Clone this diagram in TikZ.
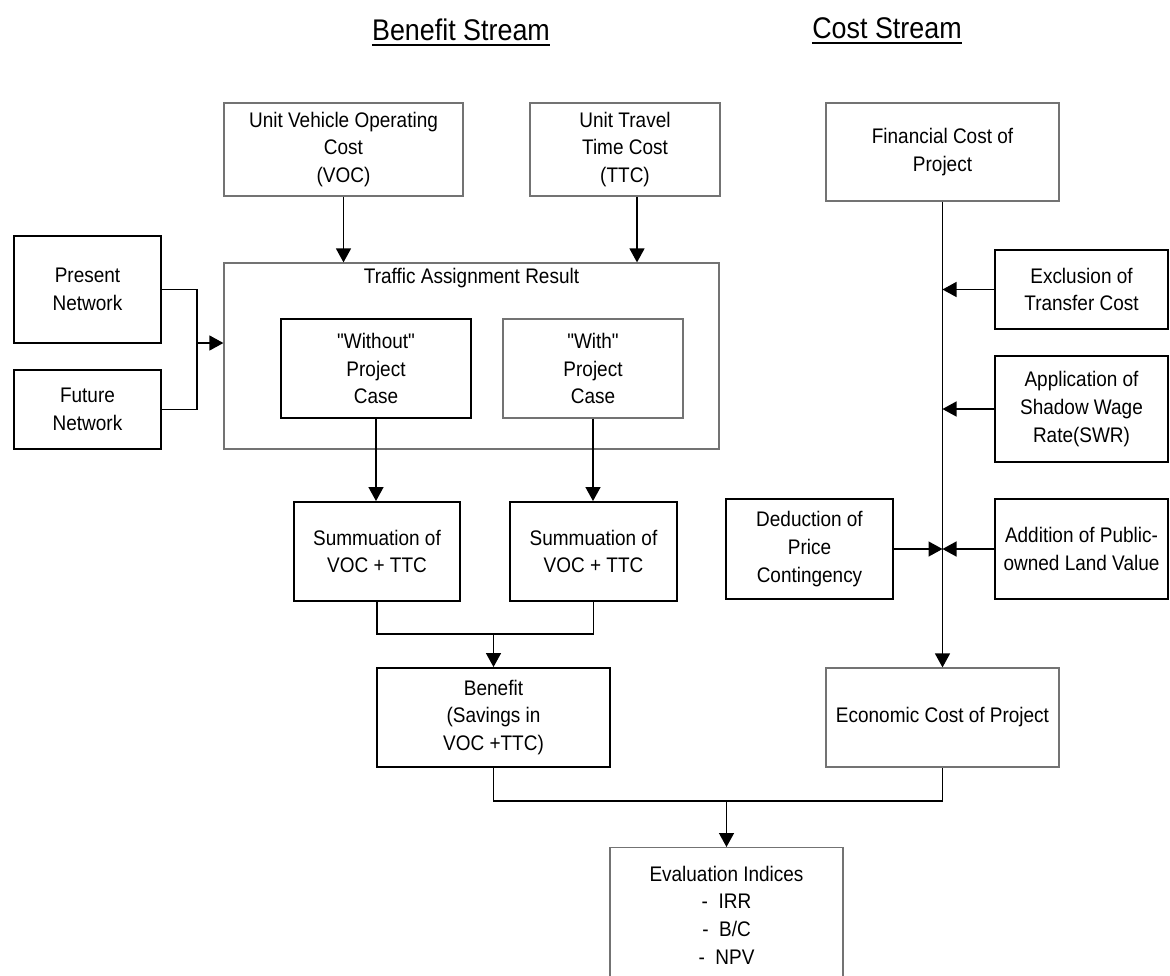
\documentclass[tikz,border=0pt]{standalone}
\usepackage{fontspec}
\setmainfont{Liberation Sans}[FakeStretch=0.9, Ligatures=TeXOff]
\usetikzlibrary{arrows.meta}
\tikzstyle{box} = [rectangle, draw=black!55, line width=0.7pt, align=center, inner sep=0pt]
\tikzstyle{darkbox} = [rectangle, draw=black, line width=1.1pt, align=center, inner sep=0pt]
\tikzstyle{link} = [line width=0.8pt, draw=black]
\tikzstyle{flow} = [link, -{Triangle[length=0.28cm, width=0.3cm]}]
\tikzstyle{title} = [font=\fontsize{17}{20}\selectfont, inner sep=0pt]
\tikzset{wh/.style 2 args={minimum width=#1*0.02cm, minimum height=#2*0.02cm}}

\begin{document}
\begin{tikzpicture}[x=0.02cm, y=-0.02cm, font=\fontsize{12}{15.7}\selectfont]
	\useasboundingbox (0,0) rectangle (1170,975);
	\node[title] (benefittitle) at (461,30) {Benefit Stream};
	\node[title] (costtitle) at (887,28) {Cost Stream};
	\draw[line width=1.2pt] ([yshift=-2.5pt]benefittitle.base west) -- ([yshift=-2.5pt]benefittitle.base east);
	\draw[line width=1.2pt] ([yshift=-2.5pt]costtitle.base west) -- ([yshift=-2.5pt]costtitle.base east);

	\node[box, wh={239}{93}] (voc) at (343.5,149.5) {Unit Vehicle Operating\\Cost\\(VOC)};
	\node[box, wh={190}{93}] (ttc) at (625,149.5) {Unit Travel\\Time Cost\\(TTC)};
	\node[box, wh={233}{98}] (fincost) at (942.5,152) {Financial Cost of\\Project};
	\node[darkbox, wh={147}{107}] (present) at (87.5,289.5) {Present\\Network};
	\node[darkbox, wh={147}{79}] (future) at (87.5,409.5) {Future\\Network};
	\node[box, wh={495}{186}] (traffic) at (471.5,356) {};
	\node[anchor=base] (trafficlbl) at (471.5,283) {Traffic Assignment Result};
	\node[darkbox, wh={190}{99}] (without) at (376,368.5) {"Without"\\Project\\Case};
	\node[box, wh={180}{99}] (with) at (593,368.5) {"With"\\Project\\Case};
	\node[darkbox, wh={166}{99}] (sumwithout) at (377,551.5) {Summuation of\\VOC + TTC};
	\node[darkbox, wh={167}{99}] (sumwith) at (593.5,551.5) {Summuation of\\VOC + TTC};
	\node[darkbox, wh={233}{99}] (benefit) at (493.5,717.5) {Benefit\\(Savings in\\VOC +TTC)};
	\node[darkbox, wh={173}{79}] (transfer) at (1081.5,289.5) {Exclusion of\\Transfer Cost};
	\node[darkbox, wh={173}{106}] (shadow) at (1081.5,409) {Application of\\Shadow Wage\\Rate(SWR)};
	\node[darkbox, wh={167}{100}] (contingency) at (809.5,549) {Deduction of\\Price\\Contingency};
	\node[darkbox, wh={173}{100}] (landvalue) at (1081.5,549) {Addition of Public-\\owned Land Value};
	\node[box, wh={233}{99}] (ecocost) at (942.5,717.5) {Economic Cost of Project};
	\node[box, wh={233}{160}, anchor=north] (evaluation) at (726.5,847) {};
	\node[align=center] (indices) at (726.5,915) {Evaluation Indices\\-~~IRR\\-~~B/C\\-~~NPV};

	\draw[flow] (voc.south) -- (voc.south |- traffic.north);
	\draw[flow] ([xshift=0.24cm]ttc.south) -- ([xshift=0.24cm]ttc.south |- traffic.north);
	\coordinate (netjoin) at (197,343);
	\draw[link] (present.east) -| (netjoin) |- (future.east);
	\draw[flow] (netjoin) -- (netjoin -| traffic.west);
	\draw[flow] (without.south) -- (without.south |- sumwithout.north);
	\draw[flow] (with.south) -- (with.south |- sumwith.north);
	\coordinate (sumjoin) at (493.5,634);
	\draw[link] (sumwithout.south) |- (sumjoin) -| (sumwith.south);
	\draw[flow] (sumjoin) -- (benefit.north);
	\draw[flow] (fincost.south) -- (ecocost.north);
	\draw[flow] (transfer.west) -- (transfer.west -| fincost.south);
	\draw[flow] (shadow.west) -- (shadow.west -| fincost.south);
	\draw[flow] (landvalue.west) -- (landvalue.west -| fincost.south);
	\draw[flow] (contingency.east) -- (contingency.east -| fincost.south);
	\coordinate (evaljoin) at (726.5,801);
	\draw[link] (benefit.south) |- (evaljoin) -| (ecocost.south);
	\draw[flow] (evaljoin) -- (evaluation.north);
\end{tikzpicture}
\end{document}
